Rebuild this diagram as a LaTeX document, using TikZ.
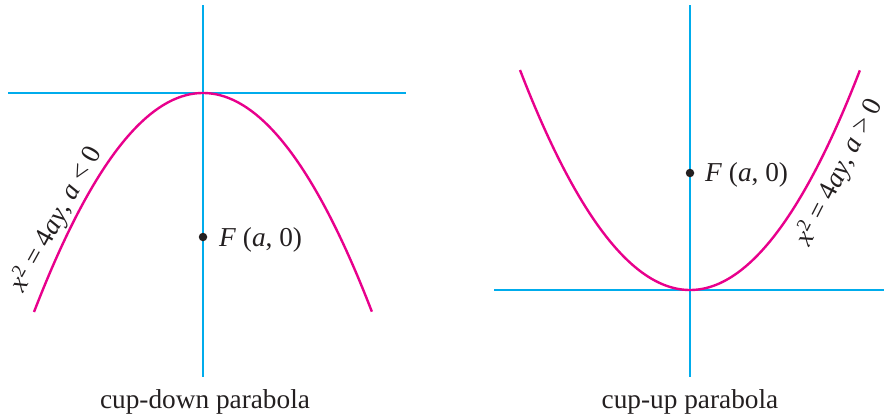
\documentclass[tikz,border=0pt]{standalone}
\usepackage{fontspec}
\setmainfont{Liberation Serif}
\definecolor{axiscyan}{RGB}{0,172,236}
\definecolor{curvemag}{RGB}{232,0,140}
\definecolor{inkdark}{RGB}{35,31,32}
\begin{document}
\begin{tikzpicture}[x=1pt,y=-1pt,
  axisline/.style={draw=axiscyan,line width=2.2pt},
  curveline/.style={draw=curvemag,line width=2.4pt},
  focusdot/.style={circle,fill=inkdark,inner sep=0pt,minimum size=8.5pt},
  lbl/.style={font=\fontsize{27.3}{31}\selectfont,text=inkdark,inner sep=0pt},
  captext/.style={font=\fontsize{27.3}{31}\selectfont,text=inkdark,inner sep=0pt,anchor=base}]
\useasboundingbox (0,0) rectangle (885,418);
% ---- left: cup-down
\coordinate (Lt) at (203,5);
\coordinate (Lb) at (203,377);
\coordinate (Ll) at (8,93);
\coordinate (Lr) at (406,93);
\draw[axisline] (Lt) -- (Lb);
\draw[axisline] (Ll) -- (Lr);
\draw[curveline] plot[domain=-1:1,samples=120] ({203+169*\x},{93+219*\x*\x});
\node[focusdot] (LF) at (203,237) {};
\node[lbl,anchor=west] (LFl) at (219,240) {\textit{F} (\textit{a}, 0)};
\node[lbl,rotate=61] (Leq) at (56,219) {\textit{x}\textsuperscript{2} = 4\textit{ay}, \textit{a} < 0};
\node[captext] (Lcap) at (205,408) {cup-down parabola};
% ---- right: cup-up
\coordinate (Rt) at (690,5);
\coordinate (Rb) at (690,377);
\coordinate (Rl) at (494,290);
\coordinate (Rr) at (884,290);
\draw[axisline] (Rt) -- (Rb);
\draw[axisline] (Rl) -- (Rr);
\draw[curveline] plot[domain=-1:1,samples=120] ({690+170*\x},{290-220*\x*\x});
\node[focusdot] (RF) at (690,173) {};
\node[lbl,anchor=west] (RFl) at (705,175) {\textit{F} (\textit{a}, 0)};
\node[lbl,rotate=63] (Req) at (839,172) {\textit{x}\textsuperscript{2} = 4\textit{ay}, \textit{a} > 0};
\node[captext] (Rcap) at (690,408) {cup-up parabola};
\end{tikzpicture}
\end{document}
